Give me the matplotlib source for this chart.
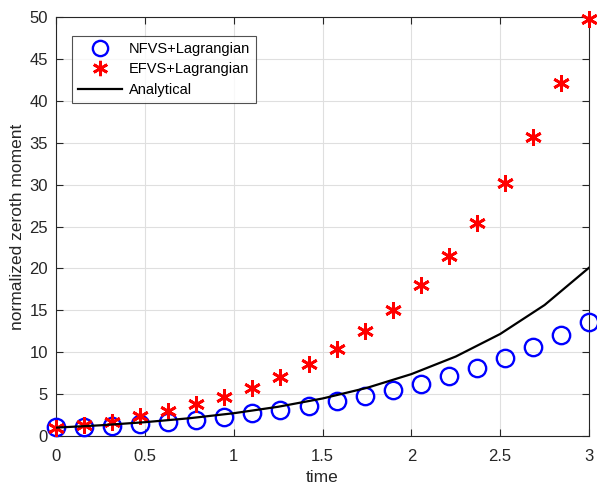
import matplotlib.pyplot as plt
import numpy as np

plt.rcParams['font.family'] = ['Liberation Sans', 'DejaVu Sans']

# marker times (20 points between 0 and 3)
t_pts = [0.0, 0.158, 0.316, 0.474, 0.632, 0.789, 0.947, 1.105, 1.263, 1.421,
         1.579, 1.737, 1.895, 2.053, 2.211, 2.368, 2.526, 2.684, 2.842, 3.0]

nfvs = [1.03, 1.1, 1.2, 1.4, 1.7, 1.95, 2.3, 2.7, 3.1, 3.6,
        4.2, 4.8, 5.5, 6.2, 7.2, 8.1, 9.3, 10.6, 12.0, 13.6]

efvs = [1.0, 1.3, 1.7, 2.4, 3.0, 3.8, 4.7, 5.75, 7.1, 8.65,
        10.4, 12.5, 15.0, 18.0, 21.5, 25.4, 30.2, 35.7, 42.2, 49.8]

# analytical curve
t_line = [0.0, 0.25, 0.5, 0.75, 1.0, 1.25, 1.5, 1.75, 2.0, 2.25, 2.5, 2.75, 3.0]
analytical = [1.0, 1.28, 1.65, 2.12, 2.72, 3.49, 4.48, 5.75, 7.39, 9.49, 12.18, 15.64, 20.09]

fig = plt.figure(figsize=(5.97, 4.91), dpi=100)
ax = fig.add_axes([0.094, 0.112, 0.8926, 0.853])

ax.plot(t_pts, nfvs, linestyle='none', marker='o', ms=12.5, mfc='none',
        mec='#0000ff', mew=1.7, label='NFVS+Lagrangian', clip_on=False, zorder=3)
ax.plot(t_pts, efvs, linestyle='none', marker=(6, 2, 0), ms=12, mec='#ff0000',
        mew=2.0, label='EFVS+Lagrangian', clip_on=False, zorder=4)
ax.plot(t_line, analytical, color='k', lw=1.6, label='Analytical', zorder=5)

ax.set_xlim(0, 3)
ax.set_ylim(0, 50)
ax.set_xticks([0, 0.5, 1, 1.5, 2, 2.5, 3])
ax.set_xticklabels(['0', '0.5', '1', '1.5', '2', '2.5', '3'])
ax.set_yticks(np.arange(0, 51, 5))

ax.grid(True, color='#dfdfdf', lw=0.8)
ax.set_axisbelow(True)
for s in ax.spines.values():
    s.set_color('#262626')
    s.set_linewidth(0.8)
ax.tick_params(direction='in', top=True, right=True, length=5, width=0.8,
               color='#262626', labelsize=12, labelcolor='#262626', pad=6)
ax.tick_params(axis='x', pad=9)

ax.set_xlabel('time', fontsize=12.5, color='#262626', labelpad=5)
ax.set_ylabel('normalized zeroth moment', fontsize=12.5, color='#262626', labelpad=3)

leg = ax.legend(loc='upper left', bbox_to_anchor=(0.03, 0.955), fontsize=10.5,
                frameon=True, fancybox=False, edgecolor='#262626',
                borderpad=0.4, labelspacing=0.45, handlelength=3.0,
                handletextpad=0.5, borderaxespad=0)
leg.get_frame().set_linewidth(0.8)
for h in leg.legend_handles[:2]:
    h.set_markersize(11)

fig.savefig('out.png', dpi=100)
